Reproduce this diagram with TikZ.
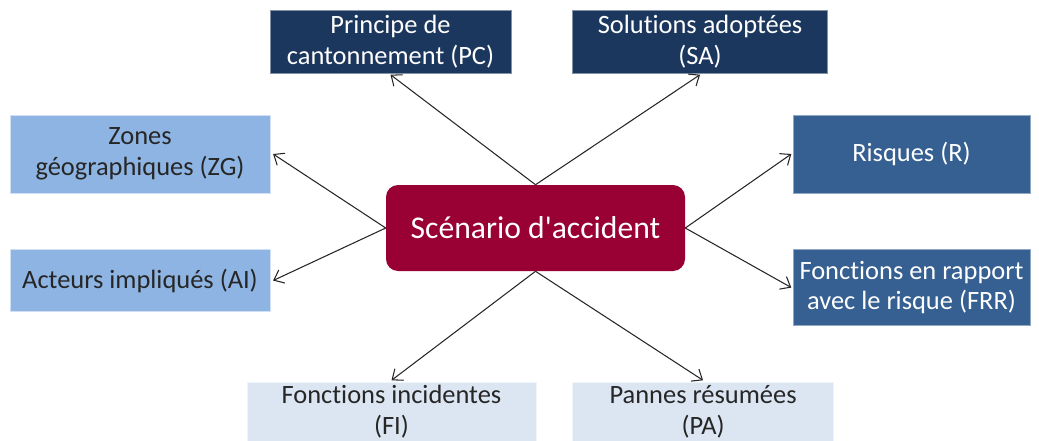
\documentclass[tikz,border=0pt]{standalone}
\usepackage{fontspec}
\setmainfont{Carlito}[RawFeature={-liga;-clig;-calt;-dlig}]
\usepackage{xcolor}
\usepackage{tikz}
\usetikzlibrary{arrows.meta,positioning}
\definecolor{Navy}{HTML}{1C375E}
\definecolor{MidBlue}{HTML}{366092}
\definecolor{SkyBlue}{HTML}{8DB4E2}
\definecolor{PaleBlue}{HTML}{DCE6F2}
\definecolor{Crimson}{HTML}{990033}

\begin{document}
\begin{tikzpicture}[
    n/.style={inner sep=0pt,align=center,font=\fontsize{18.8}{22}\selectfont},
    dk/.style={n,fill=Navy,draw=Navy!55!white,line width=0.4pt,text=white},
    md/.style={n,fill=MidBlue,draw=MidBlue!55!white,line width=0.4pt,text=white},
    lt/.style={n,fill=SkyBlue,draw=SkyBlue!40!white,line width=0.4pt,text=black!85},
    pl/.style={n,fill=PaleBlue,draw=PaleBlue!40!white,line width=0.4pt,text=black!85},
    a/.style={-{Straight Barb[length=2.2mm,width=3.6mm]},line width=0.75pt,draw=black!85}]
    \useasboundingbox (0,0) rectangle (25.975,-11.025);
    % centre
    \node[n,fill=Crimson,text=white,rounded corners=0.3cm,minimum width=7.475cm,minimum height=2.15cm,
      font=\fontsize{22.5}{27}\selectfont] (c) at (13.3875,-5.7) {Scénario d\textquotesingle accident};
    % haut
    \node[dk,minimum width=6.025cm,minimum height=1.575cm] (pc) at (9.7625,-1.0375) {Principe de\\cantonnement (PC)};
    \node[dk,minimum width=6.375cm,minimum height=1.575cm,right=1.525cm of pc] (sa) {Solutions adoptées\\(SA)};
    % gauche
    \node[lt,minimum width=6.5cm,minimum height=1.95cm] (zg) at (3.5,-3.85) {Zones\\géographiques (ZG)};
    \node[lt,minimum width=6.5cm,minimum height=1.55cm,below=1.4cm of zg] (ai) {Acteurs impliqués (AI)};
    % droite
    \node[md,minimum width=5.925cm,minimum height=1.95cm] (r) at (22.7875,-3.85) {Risques (R)};
    \node[md,minimum width=5.925cm,minimum height=1.9cm,below=1.4cm of r] (frr) {Fonctions en rapport\\avec le risque (FRR)};
    % bas
    \node[pl,minimum width=7.225cm,minimum height=1.5cm] (fi) at (9.7875,-10.3) {Fonctions incidentes\\(FI)};
    \node[pl,minimum width=6.525cm,minimum height=1.5cm,right=0.9cm of fi] (pa) {Pannes résumées\\(PA)};
    \draw[a] (c.north)--([yshift=-1pt]pc.south); \draw[a] (c.north)--([yshift=-1pt]sa.south);
    \draw[a] (c.west)--([xshift=2pt]zg.east); \draw[a] (c.west)--([xshift=2pt]ai.east);
    \draw[a] (c.east)--([xshift=-1pt]r.west); \draw[a] (c.east)--([xshift=-1pt]frr.west);
    \draw[a] (c.south)--([yshift=1pt]fi.north); \draw[a] (c.south)--([yshift=1pt]pa.north);
  \end{tikzpicture}
\end{document}
